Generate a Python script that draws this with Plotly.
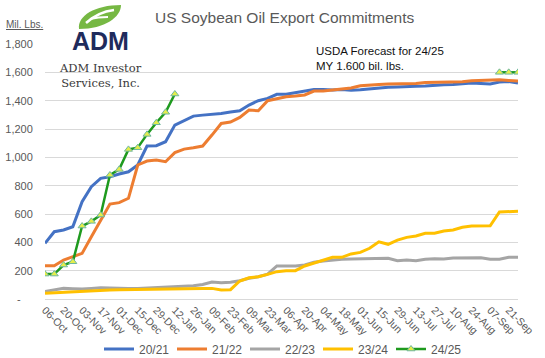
import plotly.graph_objects as go

weeks = ["06-Oct", "13-Oct", "20-Oct", "27-Oct", "03-Nov", "10-Nov", "17-Nov", "24-Nov",
         "01-Dec", "08-Dec", "15-Dec", "22-Dec", "29-Dec", "05-Jan", "12-Jan", "19-Jan",
         "26-Jan", "02-Feb", "09-Feb", "16-Feb", "23-Feb", "02-Mar", "09-Mar", "16-Mar",
         "23-Mar", "30-Mar", "06-Apr", "13-Apr", "20-Apr", "27-Apr", "04-May", "11-May",
         "18-May", "25-May", "01-Jun", "08-Jun", "15-Jun", "22-Jun", "29-Jun", "06-Jul",
         "13-Jul", "20-Jul", "27-Jul", "03-Aug", "10-Aug", "17-Aug", "24-Aug", "31-Aug",
         "07-Sep", "14-Sep", "21-Sep", "28-Sep"]

s2021 = [393, 475, 487, 510, 687, 793, 852, 863, 882, 898, 946, 1080, 1082, 1110, 1228, 1262,
         1291, 1298, 1303, 1310, 1320, 1329, 1369, 1400, 1416, 1445, 1445, 1456, 1468, 1478,
         1478, 1475, 1478, 1473, 1477, 1484, 1491, 1494, 1496, 1496, 1501, 1503, 1510, 1512,
         1515, 1519, 1524, 1522, 1517, 1531, 1536, 1524]

s2122 = [235, 235, 275, 299, 322, 440, 557, 670, 680, 711, 946, 974, 981, 969, 1033, 1058,
         1068, 1080, 1157, 1239, 1249, 1282, 1334, 1329, 1400, 1416, 1428, 1433, 1440, 1468,
         1468, 1475, 1480, 1489, 1505, 1512, 1515, 1517, 1517, 1519, 1522, 1529, 1529, 1531,
         1534, 1534, 1541, 1543, 1548, 1548, 1543, 1538]

s2223 = [52, 62, 75, 72, 70, 75, 80, 78, 75, 75, 75, 78, 82, 85, 87, 90,
         94, 103, 120, 115, 118, 129, 146, 157, 176, 233, 233, 233, 240, 259,
         268, 275, 280, 282, 282, 287, 287, 287, 270, 275, 270, 280, 284, 282,
         289, 291, 294, 291, 280, 280, 294, 294]

s2324 = [40, 44, 49, 52, 54, 58, 61, 64, 66, 67, 68, 72, 75, 74, 73, 74,
         75, 75, 75, 64, 66, 127, 150, 157, 174, 193, 200, 200, 233, 252,
         275, 294, 294, 318, 329, 358, 404, 386, 416, 435, 445, 464, 464, 480,
         487, 506, 515, 517, 517, 614, 619, 619]

s2425 = [176, 176, 240, 263, 515, 548, 593, 875, 915, 1056, 1068, 1162, 1244, 1318, 1447] \
        + [None] * 34 + [1600, 1600, 1600]

y_ticks = [0, 200, 400, 600, 800, 1000, 1200, 1400, 1600, 1800]
y_ticktext = ["-\u2007\u2007", "200", "400", "600", "800", "1,000", "1,200", "1,400", "1,600", "1,800"]

W, H = 545, 358
L, R, T, B = 45, 518, 44, 299


def px(x, y):
    return (x - L) / (R - L), (B - y) / (B - T)


fig = go.Figure()
series = [("20/21", s2021, "#4472C4"), ("21/22", s2122, "#ED7D31"),
          ("22/23", s2223, "#A5A5A5"), ("23/24", s2324, "#FFC000")]
for name, vals, col in series:
    fig.add_trace(go.Scatter(x=weeks, y=vals, name=name, mode="lines",
                             line=dict(color=col, width=3)))
fig.add_trace(go.Scatter(x=weeks, y=s2425, name="24/25", mode="lines+markers",
                         connectgaps=False,
                         line=dict(color="#1E9A1E", width=2.5),
                         marker=dict(symbol="triangle-up", size=7, color="#E4EE4A",
                                     line=dict(color="#6FB7A0", width=1))))


def path(points):
    s = ""
    for cmd, pts in points:
        s += cmd + " " + " ".join("%.4f,%.4f" % px(*p) for p in pts) + " "
    return s + "Z"


shapes = [
    dict(type="rect", xref="paper", yref="paper", x0=px(58, 0)[0], x1=px(142, 0)[0],
         y0=px(0, 56)[1], y1=px(0, 2)[1], fillcolor="white", line=dict(width=0), layer="above"),
    dict(type="path", xref="paper", yref="paper", layer="above",
         path=path([("M", [(79, 29)]), ("C", [(77, 16), (95, 5), (121, 5)]),
                    ("C", [(121, 17), (105, 29), (79, 29)])]),
         fillcolor="#76B843", line=dict(width=0)),
    dict(type="path", xref="paper", yref="paper", layer="above",
         path="M %.4f,%.4f Q %.4f,%.4f %.4f,%.4f" % (*px(86, 23), *px(98, 12), *px(114, 10)),
         line=dict(color="white", width=2.5)),
    dict(type="path", xref="paper", yref="paper", layer="above",
         path="M %.4f,%.4f Q %.4f,%.4f %.4f,%.4f" % (*px(90, 19), *px(98, 17), *px(108, 17)),
         line=dict(color="white", width=2)),
]


def note(x, y, text, size, color, family="Liberation Sans", xanchor="left", align="left"):
    return dict(x=px(x, 0)[0], y=px(0, y)[1], xanchor=xanchor, yanchor="middle", align=align,
                text=text, showarrow=False, xref="paper", yref="paper",
                font=dict(family=family, size=size, color=color))


annotations = [
    note(100, 41, "<b>ADM</b>", 25, "#1F2B5C", xanchor="center", align="center"),
    note(100, 75, "ADM Investor<br>Services, Inc.", 11.5, "#3A3A3A", family="DejaVu Serif",
         xanchor="center", align="center"),
    note(153, 18, "US Soybean Oil Export Commitments", 15.5, "#595959"),
    note(4, 24, "<u>Mil. Lbs.</u>", 10, "#595959"),
    note(314, 58, "USDA Forecast for 24/25<br>MY 1.600 bil. lbs.", 11.5, "#111111"),
]

fig.update_layout(
    width=W, height=H, margin=dict(l=L, r=W - R, t=T, b=H - B, autoexpand=False),
    paper_bgcolor="white", plot_bgcolor="white",
    showlegend=True,
    legend=dict(orientation="h", x=0.5, xanchor="center", y=(B - 349) / (B - T), yanchor="middle",
                font=dict(family="Liberation Sans", size=12, color="#595959"),
                entrywidth=28, bgcolor="rgba(0,0,0,0)"),
    shapes=shapes, annotations=annotations,
    xaxis=dict(type="category", range=[0, len(weeks) - 1], tickvals=weeks[::2], ticktext=weeks[::2],
               tickangle=45, showgrid=False, showline=True, linecolor="#D9D9D9", linewidth=1,
               ticks="", tickfont=dict(family="Liberation Sans", size=10.5, color="#595959"),
               zeroline=False, automargin=False),
    yaxis=dict(range=[0, 1800], tickvals=y_ticks, ticktext=y_ticktext, showgrid=True,
               gridcolor="#D9D9D9", gridwidth=1, zeroline=False, showline=False,
               ticks="outside", ticklen=9, tickcolor="rgba(0,0,0,0)", automargin=False,
               tickfont=dict(family="Liberation Sans", size=11, color="#595959")),
)

fig.write_html("out.html", config={"displayModeBar": False},
               post_script="document.body.style.margin='0';")
